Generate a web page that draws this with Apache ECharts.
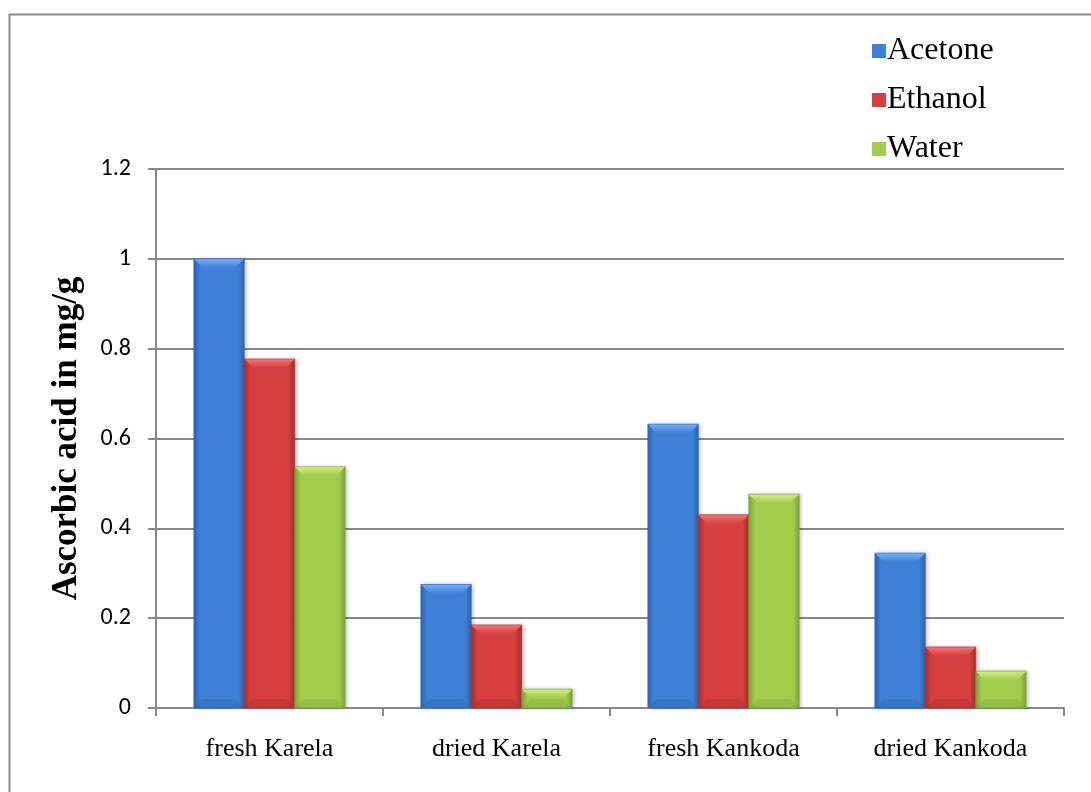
<!DOCTYPE html>
<html>
<head>
<meta charset="utf-8">
<title>Ascorbic acid content</title>
<script src="https://cdn.jsdelivr.net/npm/echarts@6/dist/echarts.min.js"></script>
<style>
  html, body { margin: 0; padding: 0; background: #ffffff; }
  #chart { width: 1091px; height: 792px; }
</style>
</head>
<body>
<div id="chart"></div>
<script>
// Samples and solvent extracts
const categories = ['fresh Karela', 'dried Karela', 'fresh Kankoda', 'dried Kankoda'];
const seriesNames = ['Acetone', 'Ethanol', 'Water'];
const acetone = [1.0, 0.275, 0.632, 0.345];
const ethanol = [0.777, 0.185, 0.43, 0.136];
const water = [0.537, 0.042, 0.476, 0.082];
const yTicks = [0, 0.2, 0.4, 0.6, 0.8, 1, 1.2];

// Bevelled bar colours: [edge, body, highlight]
const palette = [
  ['#2c62b0', '#3e80d6', '#79b0f2'],
  ['#a82c2c', '#d53f3f', '#f27a7a'],
  ['#7aa236', '#a2cc4c', '#d2ee8a']
];

const GRAY = '#878787';
const SERIF = '"Liberation Serif", "Times New Roman", serif';

function bevelBar(si) {
  const c = palette[si];
  return function (params, api) {
    const idx = api.value(0);
    const val = api.value(1);
    const base = api.coord([idx, 0]);
    const top = api.coord([idx, val]);
    const catW = api.size([1, 0])[0];
    const bw = catW / 4.5;
    const x = base[0] - 1.5 * bw + si * bw;
    const y = top[1];
    const h = base[1] - top[1];
    const w = bw;
    const d = Math.min(9, h / 2);
    const body = new echarts.graphic.LinearGradient(0, 0, 1, 0, [
      { offset: 0, color: c[0] },
      { offset: 0.12, color: c[1] },
      { offset: 0.5, color: c[1] },
      { offset: 0.88, color: c[1] },
      { offset: 1, color: c[0] }
    ]);
    return {
      type: 'group',
      children: [
        {
          type: 'rect',
          shape: { x: x, y: y, width: w, height: h },
          style: { fill: body, shadowBlur: 4, shadowOffsetX: 2, shadowOffsetY: 0, shadowColor: 'rgba(0,0,0,0.25)' }
        },
        {
          type: 'polygon',
          shape: { points: [[x, y], [x + w, y], [x + w - d, y + d], [x + d, y + d]] },
          style: {
            fill: new echarts.graphic.LinearGradient(0, 0, 0, 1, [
              { offset: 0, color: c[2] },
              { offset: 1, color: c[1] }
            ])
          }
        },
        {
          type: 'polygon',
          shape: { points: [[x, y + h], [x + w, y + h], [x + w - d, y + h - d], [x + d, y + h - d]] },
          style: { fill: c[0], opacity: 0.35 }
        },
        {
          type: 'rect',
          shape: { x: x, y: y, width: w, height: h },
          style: { fill: 'none', stroke: c[0], lineWidth: 1, opacity: 0.6 }
        }
      ]
    };
  };
}

const valueSets = [acetone, ethanol, water];

const chart = echarts.init(document.getElementById('chart'), null, { renderer: 'canvas' });

chart.setOption({
  animation: false,
  color: palette.map(p => p[1]),
  graphic: [
    {
      type: 'polyline',
      shape: { points: [[9.5, 800], [9.5, 14.5], [1100, 14.5]] },
      style: { stroke: GRAY, lineWidth: 2, fill: 'none' },
      silent: true
    }
  ],
  legend: {
    orient: 'vertical',
    left: 867,
    top: 30,
    itemGap: 17,
    itemWidth: 14,
    itemHeight: 14,
    icon: 'rect',
    data: seriesNames,
    textStyle: {
      fontFamily: SERIF,
      fontSize: 32,
      color: '#000',
      padding: [0, 0, 0, -4]
    }
  },
  grid: { left: 156, right: 27, top: 169, bottom: 84, containLabel: false },
  xAxis: {
    type: 'category',
    data: categories,
    axisLine: { show: true, lineStyle: { color: GRAY, width: 2 } },
    axisTick: { show: true, alignWithLabel: false, length: 8, lineStyle: { color: GRAY, width: 2 } },
    axisLabel: {
      color: '#000',
      fontFamily: SERIF,
      fontSize: 26,
      margin: 28
    },
    splitLine: { show: false }
  },
  yAxis: {
    type: 'value',
    min: 0,
    max: 1.2,
    interval: 0.2,
    name: 'Ascorbic acid in mg/g',
    nameLocation: 'middle',
    nameGap: 72,
    nameRotate: 90,
    nameTextStyle: {
      color: '#000',
      fontFamily: SERIF,
      fontWeight: 'bold',
      fontSize: 35
    },
    axisLine: { show: true, lineStyle: { color: GRAY, width: 2 } },
    axisTick: { show: true, inside: false, length: 8, lineStyle: { color: GRAY, width: 2 } },
    axisLabel: {
      color: '#000',
      fontFamily: 'Carlito, Lato, "Open Sans", sans-serif',
      fontSize: 24,
      margin: 25,
      formatter: function (v) {
        const hit = yTicks.find(t => Math.abs(t - v) < 1e-9);
        return hit === undefined ? '' : String(hit);
      }
    },
    splitLine: { show: true, lineStyle: { color: GRAY, width: 2 } }
  },
  series: seriesNames.map((name, si) => ({
    name: name,
    type: 'custom',
    renderItem: bevelBar(si),
    encode: { x: 0, y: 1 },
    data: valueSets[si].map((v, i) => [i, v]),
    z: 3
  }))
});
</script>
</body>
</html>
